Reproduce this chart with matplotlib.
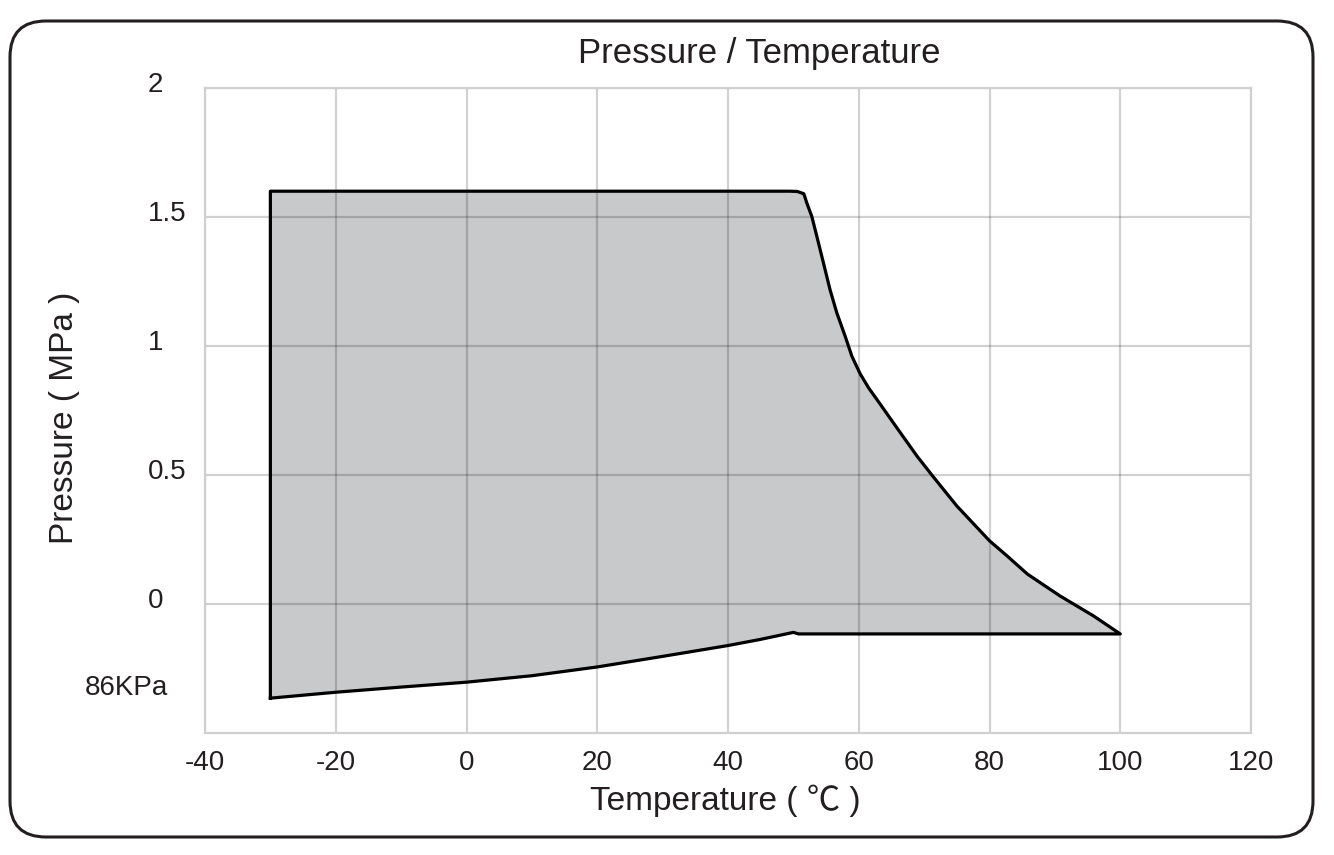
import matplotlib
matplotlib.use("Agg")
import matplotlib.pyplot as plt
from matplotlib.patches import FancyBboxPatch
from matplotlib.transforms import IdentityTransform, ScaledTranslation

plt.rcParams['font.family'] = ['Liberation Sans', 'Noto Sans CJK SC', 'DejaVu Sans']
plt.rcParams['axes.unicode_minus'] = False

# upper boundary of the working envelope (temperature degC, pressure MPa)
upper_t = [-30, 49.5, 50.6, 51.6, 52.06, 52.82, 53.59, 54.6, 55.6, 56.65, 57.92, 58.94,
           60.2, 61.5, 62.77, 65.83, 68.89, 71.18, 75.0, 80.0, 82.66, 85.8, 90.8, 95.9, 100]
upper_p = [1.6, 1.6, 1.599, 1.59, 1.554, 1.502, 1.425, 1.322, 1.219, 1.128, 1.038, 0.961,
           0.893, 0.838, 0.793, 0.683, 0.574, 0.5, 0.380, 0.245, 0.187, 0.116, 0.031,
           -0.046, -0.116]

# lower boundary (vacuum side)
lower_t = [-30, -20, -10, 0, 10, 20, 30, 40, 45, 50.0, 50.8, 100]
lower_p = [-0.365, -0.342, -0.322, -0.303, -0.278, -0.244, -0.203, -0.161, -0.137, -0.110,
           -0.116, -0.116]

x_ticks = [-40, -20, 0, 20, 40, 60, 80, 100, 120]
y_ticks = [0, 0.5, 1, 1.5, 2]
y_tick_labels = ['0', '0.5', '1', '1.5', '2']

TEXT = '#231f20'
FILL = '#c8c9cb'

fig = plt.figure(figsize=(13.34, 8.55), dpi=100)
ax = fig.add_axes([205 / 1334, 1 - 733 / 855, 1046 / 1334, 645 / 855])

# closed outline: left edge up, along the top/right curve, back along the bottom
outline_t = [upper_t[0]] + upper_t + lower_t[::-1]
outline_p = [lower_p[0]] + upper_p + lower_p[::-1]
ax.fill(outline_t, outline_p, color=FILL, lw=0, zorder=1)
ax.plot(outline_t, outline_p, color='black', lw=2.3, solid_joinstyle='round', zorder=3)

ax.set_xlim(-40, 120)
ax.set_ylim(-0.5, 2)
ax.set_xticks(x_ticks)
ax.set_yticks(y_ticks)
ax.set_yticklabels(y_tick_labels)
ax.grid(True, color='black', alpha=0.18, lw=1.6, zorder=2)
ax.set_axisbelow('line')
for s in ax.spines.values():
    s.set_color('#d0d0d0')
    s.set_linewidth(1.6)

ax.tick_params(axis='both', length=0, labelsize=20, labelcolor=TEXT)
ax.tick_params(axis='x', pad=12)
ax.tick_params(axis='y', pad=41)
for lab in ax.get_yticklabels():
    lab.set_horizontalalignment('left')
    lab.set_transform(lab.get_transform() + ScaledTranslation(0, 6 / 100, fig.dpi_scale_trans))

ax.text(-37 / 1046, -0.325, '86KPa', transform=ax.get_yaxis_transform(),
        ha='right', va='center', fontsize=20, color=TEXT)

fig.text(759 / 1334, 1 - 54 / 855, 'Pressure / Temperature', ha='center', va='center',
         fontsize=25, color=TEXT)
fig.text(725 / 1334, 1 - 801 / 855, 'Temperature ( ℃ )', ha='center', va='center',
         fontsize=24, color=TEXT)
fig.text(65 / 1334, 1 - 418 / 855, 'Pressure ( MPa )', ha='center', va='center',
         rotation=90, fontsize=24, color=TEXT)

# rounded frame around the whole chart
frame = FancyBboxPatch((10, 18), 1303, 816, boxstyle='round,pad=0,rounding_size=36',
                       transform=IdentityTransform(), fill=False, ec='#231f20', lw=2.2)
fig.patches.append(frame)

fig.savefig('out.png', dpi=100)
